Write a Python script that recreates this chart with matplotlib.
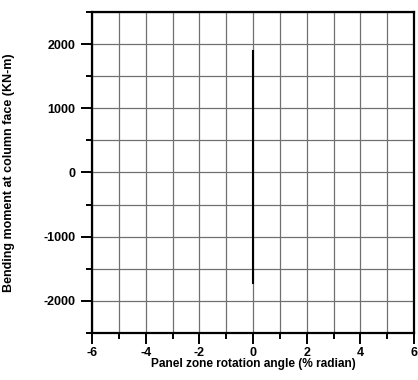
import matplotlib.pyplot as plt
import numpy as np

plt.rcParams['font.family'] = ['Liberation Sans', 'DejaVu Sans']
plt.rcParams['font.weight'] = 'bold'
plt.rcParams['axes.unicode_minus'] = False

# panel zone rotation (% radian) vs bending moment (kN-m)
rotation = [0.0, 0.0, 0.0]
moment = [1900, 0, -1720]

x_ticks = [-6, -4, -2, 0, 2, 4, 6]
y_ticks = [-2000, -1000, 0, 1000, 2000]

fig = plt.figure(figsize=(4.18, 3.80), dpi=100)
ax = fig.add_axes([92/418, 1 - 333/380, 322/418, 321/380])

ax.plot(rotation, moment, color='black', linewidth=1.5)

ax.set_xlim(-6, 6)
ax.set_ylim(-2500, 2500)
ax.set_xticks(x_ticks)
ax.set_yticks(y_ticks)
ax.set_xticks(np.arange(-5, 6, 2), minor=True)
ax.set_yticks(np.arange(-2500, 2501, 1000), minor=True)

ax.grid(True, which='both', color='#707070', linewidth=0.9)
ax.set_axisbelow(True)

ax.tick_params(which='major', direction='out', length=8, width=1.4, labelsize=9, pad=4)
ax.tick_params(axis='x', which='major', pad=2)
ax.tick_params(which='minor', direction='out', length=4, width=1.4)
for s in ax.spines.values():
    s.set_linewidth(1.6)

ax.set_xlabel('Panel zone rotation angle (% radian)', fontsize=8.6, fontweight='bold', labelpad=-1)
ax.set_ylabel('Bending moment at column face (KN-m)', fontsize=9, fontweight='bold', labelpad=20)

plt.savefig('out.png', dpi=100)
